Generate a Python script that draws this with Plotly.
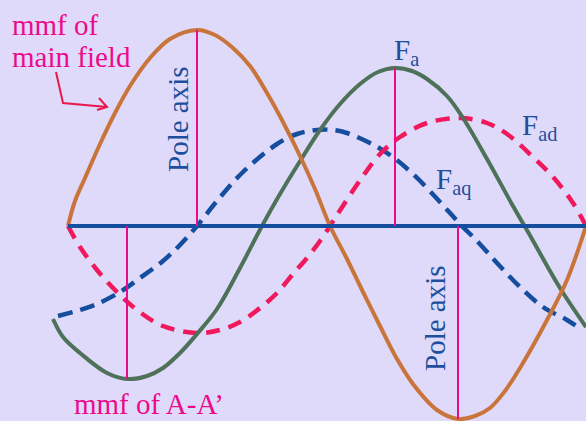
import numpy as np
import plotly.graph_objects as go

# ---- data (horizontal position along the air gap, mmf value above the axis) ----
main_x = [68, 75, 85, 100, 115, 130, 150, 170, 197, 215, 233, 250, 267, 283, 300, 315, 330,
          347, 363, 380, 397, 413, 437, 458, 475, 490, 505, 520, 547, 567, 586]
main_y = [0, 25, 48, 82, 113, 140, 168, 187, 196, 191, 178, 160, 133, 104, 70, 37, 0,
          -33, -66, -100, -133, -158, -184, -193, -190, -182, -165, -142, -94, -54, 0]

fa_x = [53, 63, 80, 107, 127, 147, 163, 180, 197, 217, 240, 262, 280, 302, 320, 340, 360, 378, 395,
        412, 427, 447, 463, 487, 513, 532, 560, 586]
fa_y = [-93, -111, -127, -147, -153, -150, -142, -127, -108, -83, -42, 0, 32, 68, 96, 122, 142, 154, 158,
        155, 147, 130, 108, 67, 20, -13, -62, -101]

fad_x = [68, 80, 97, 117, 137, 163, 197, 220, 240, 260, 277, 293, 307, 320, 330, 337, 363, 380, 400,
         427, 460, 487, 507, 533, 553, 573, 586]
fad_y = [0, -21, -44, -66, -84, -100, -107, -104, -96, -82, -67, -48, -32, -15, 0, 11, 50, 72, 89,
         103, 108, 103, 92, 69, 49, 23, 0]

faq_x = [58, 80, 97, 120, 140, 163, 180, 197, 217, 243, 277, 297, 317, 333, 347, 370, 390, 413, 440,
         460, 477, 497, 520, 543, 567, 582]
faq_y = [-90, -84, -78, -66, -52, -35, -19, 0, 25, 54, 82, 92, 96, 96, 93, 83, 71, 52, 24,
         2, -15, -37, -61, -81, -94, -104]

# ---- style ----
BG = "#dfdaf9"
ORANGE = "#c9743a"
GREEN = "#4e7159"
RED = "#f0195c"
BLUE = "#154e9f"
TXT_BLUE = "#1d4f9c"
MAGENTA = "#ec0a8c"
ARROW = "#e8194f"
FONT = "Liberation Serif"

fig = go.Figure()

fig.add_trace(go.Scatter(x=faq_x, y=faq_y, mode="lines",
                         line=dict(color=BLUE, width=4.5, dash="15px,8px", shape="spline", smoothing=1.0)))
fig.add_trace(go.Scatter(x=fad_x, y=fad_y, mode="lines",
                         line=dict(color=RED, width=4.5, dash="14px,9px", shape="spline", smoothing=1.0)))
fig.add_trace(go.Scatter(x=fa_x, y=fa_y, mode="lines",
                         line=dict(color=GREEN, width=4, shape="spline", smoothing=1.0)))
fig.add_trace(go.Scatter(x=main_x, y=main_y, mode="lines",
                         line=dict(color=ORANGE, width=4, shape="spline", smoothing=1.0)))

# horizontal axis line, from the start of the main field wave to the end
fig.add_trace(go.Scatter(x=[main_x[0], main_x[-1]], y=[0, 0], mode="lines",
                         line=dict(color=BLUE, width=4)))

# vertical axes at peaks of the waves
i_max = int(np.argmax(main_y)); i_min = int(np.argmin(main_y))
j_max = int(np.argmax(fa_y)); j_min = int(np.argmin(fa_y))
for xx, yy in [(main_x[i_max], main_y[i_max]), (main_x[i_min], main_y[i_min]),
               (fa_x[j_max], fa_y[j_max]), (fa_x[j_min], fa_y[j_min])]:
    fig.add_trace(go.Scatter(x=[xx, xx], y=[0, yy], mode="lines",
                             line=dict(color=MAGENTA, width=2)))

# arrow from label to curve
fig.add_shape(type="path", xref="x", yref="y",
              path="M 56,154 L 63,123 L 107,119 M 99,128 L 107,119 L 97,116",
              line=dict(color=ARROW, width=2))

def label(text, x, y, color, size=29, angle=0, xanchor="left"):
    fig.add_annotation(x=x, y=y, xref="x", yref="y", text=text, showarrow=False,
                       xanchor=xanchor, yanchor="middle", textangle=angle,
                       font=dict(family=FONT, size=size, color=color), borderpad=0)

label("mmf of", 11, 201, MAGENTA)
label("main field", 11, 169, MAGENTA)
label("Pole axis", 178, 107, TXT_BLUE, angle=-90, xanchor="center")
label("Pole axis", 435, -92, TXT_BLUE, angle=-90, xanchor="center")
label("F<sub>a</sub>", 393, 174, TXT_BLUE)
label("F<sub>ad</sub>", 521, 99, TXT_BLUE)
label("F<sub>aq</sub>", 435, 45, TXT_BLUE)
label("mmf of A-A\u2019", 73, -178, MAGENTA)

fig.update_layout(width=586, height=421, margin=dict(l=0, r=0, t=0, b=0),
                  paper_bgcolor=BG, plot_bgcolor=BG, showlegend=False)
fig.update_xaxes(range=[0, 586], visible=False, fixedrange=True)
fig.update_yaxes(range=[-195, 226], visible=False, fixedrange=True)

fig.write_html("out.html", config={"displayModeBar": False},
               post_script="document.body.style.margin='0px';document.body.style.background='" + BG + "';")
